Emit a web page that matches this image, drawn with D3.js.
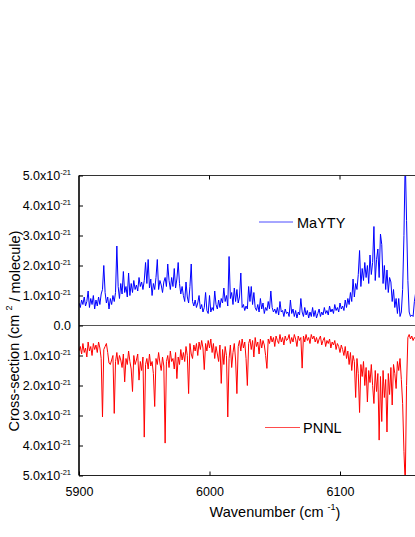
<!DOCTYPE html>
<html><head><meta charset="utf-8">
<script src="https://cdn.jsdelivr.net/npm/d3@7/dist/d3.min.js"></script>
<style>html,body{margin:0;padding:0;background:#fff;}svg{display:block;font-family:"Liberation Sans",Arial,sans-serif;}</style>
</head><body>
<script>
// wavenumber grid (cm-1), one point per cm-1
const waveStart = 5900, waveEnd = 6160;
// cross-sections in units of 1e-21 cm^2/molecule
const maytyValues = [
0.75,0.6,0.85,0.7,0.95,0.65,0.8,1.15,0.6,0.9,
0.7,1.0,0.55,0.85,0.65,0.95,0.7,1.05,1.2,2.0,
1.1,0.75,0.95,0.55,0.9,0.7,1.0,0.8,1.1,2.65,
1.3,0.9,1.4,1.05,1.8,1.1,1.3,0.95,1.75,1.0,
1.4,1.1,1.5,1.2,1.35,1.15,1.6,1.3,1.45,1.2,
1.5,2.1,1.4,2.2,1.25,1.55,1.0,1.4,1.2,1.6,
2.2,1.2,1.5,1.35,1.1,1.45,1.6,1.3,2.05,1.5,
1.2,1.6,1.3,1.9,1.25,1.55,2.1,1.4,1.05,1.3,
1.0,0.8,1.45,0.95,0.75,1.3,2.05,0.8,0.65,0.85,
0.6,0.75,1.0,0.55,0.7,0.45,0.6,1.1,0.5,0.4,
1.0,0.45,0.6,0.5,1.15,0.7,0.55,0.85,0.6,0.9,
0.75,1.25,0.8,1.0,0.65,2.3,0.9,1.1,0.7,1.25,
0.8,1.2,0.75,0.95,1.75,0.6,0.7,0.5,0.65,0.55,
1.3,0.8,1.3,0.7,1.1,0.6,0.5,0.7,0.45,0.9,
0.55,0.75,0.4,0.6,0.5,0.8,0.55,1.15,0.6,0.45,
0.55,0.4,0.6,0.35,0.8,0.45,0.5,0.3,0.55,0.4,
0.45,0.3,0.85,0.4,0.55,0.3,0.5,0.25,0.45,0.35,
0.9,0.45,0.3,0.6,0.35,0.5,0.25,0.45,0.3,0.6,
0.3,0.5,0.25,0.4,0.55,0.3,0.45,0.35,0.6,0.4,
0.5,0.35,0.65,0.45,0.55,0.4,0.7,0.5,0.6,0.45,
0.75,0.55,0.65,0.5,0.85,0.6,0.9,0.7,1.1,0.8,
1.55,0.95,1.4,1.2,1.7,2.5,1.3,1.9,1.5,2.1,
1.6,2.0,1.4,2.35,1.7,2.1,3.3,1.5,2.2,2.55,
1.6,3.05,2.7,1.4,2.0,1.2,1.85,1.1,1.6,1.45,
0.8,1.2,0.6,0.9,0.4,0.9,0.3,0.45,1.2,3.0,
5.6,3.5,1.5,0.45,0.3,0.35,0.3,0.8,1.1,1.0,0.9];
const pnnlValues = [
0.85,0.7,0.95,0.6,0.9,0.75,1.05,0.55,0.85,0.7,
1.0,0.6,0.8,0.65,0.9,0.55,0.75,1.1,3.05,0.8,
0.7,0.6,0.9,1.25,1.3,1.15,1.0,2.93,1.2,0.9,
1.3,1.0,1.15,1.4,0.95,1.88,1.1,1.3,0.85,1.2,
1.45,2.2,1.0,1.3,1.15,0.95,1.82,1.2,1.5,1.05,
3.72,1.3,1.1,1.45,0.95,1.35,1.2,1.6,2.7,1.1,
1.3,0.9,1.25,1.5,1.05,1.35,3.92,1.2,1.0,1.4,
0.85,1.2,1.1,1.45,0.9,1.77,1.05,1.3,0.8,1.15,
0.9,1.2,0.7,1.0,2.27,0.6,0.95,1.1,0.65,0.85,
0.6,1.0,0.55,0.8,0.5,0.75,1.47,0.6,0.85,0.5,
0.75,0.45,0.9,0.6,1.1,0.7,0.95,1.2,0.65,1.93,
0.8,1.3,0.7,1.0,3.05,1.1,0.65,1.4,0.9,0.6,
1.15,2.27,0.7,0.5,0.85,0.45,0.75,0.55,1.1,2.0,
0.6,0.45,0.8,0.5,1.05,0.4,0.7,0.55,0.95,0.45,
0.75,0.5,0.65,1.0,1.43,0.45,0.6,0.35,0.55,0.4,
0.7,0.35,0.5,0.6,0.3,0.55,0.4,0.65,0.35,0.5,
0.45,0.3,0.6,0.4,0.55,0.3,0.45,0.7,0.35,0.5,
0.4,1.42,0.35,0.55,0.3,0.5,0.4,0.6,0.3,0.45,
0.35,0.55,0.4,0.6,0.45,0.35,0.65,0.5,0.4,0.7,
0.5,0.6,0.45,0.75,0.55,0.65,0.5,0.8,0.6,0.7,
0.9,0.65,0.8,1.0,0.7,1.1,0.85,1.3,0.9,1.5,
1.0,1.2,2.4,1.1,1.6,2.9,1.3,1.7,1.2,2.0,
1.4,2.55,1.5,1.9,1.3,2.0,2.6,1.5,2.2,1.6,
3.82,1.7,3.2,1.5,2.4,1.8,3.55,1.6,2.3,1.4,
2.65,1.3,1.6,2.1,1.2,1.5,1.1,1.8,2.6,4.2,
5.3,2.0,0.4,0.3,0.45,0.35,0.5,0.4,0.45,0.5,0.45];
const xTicks = [5900, 6000, 6100];
const yTicks = [0, 1, 2, 3, 4, 5];
const seriesNames = ["MaYTY", "PNNL"];
const seriesColors = ["#0000ff", "#ff0000"];

const W = 415, H = 537;
const pLeft = 79, pRight = 470.5, pTop = 175.5, pMid = 325.5, pBottom = 475.5;
const svg = d3.select("body").append("svg").attr("width", W).attr("height", H);

const x = d3.scaleLinear().domain([5900, 6200]).range([pLeft, pRight]);
const yTop = d3.scaleLinear().domain([0, 5]).range([pMid, pTop]);
const yBot = d3.scaleLinear().domain([0, 5]).range([pMid, pBottom]);

const waves = d3.range(waveStart, waveEnd + 1);
const topData = waves.map((w, i) => [w, maytyValues[i]]);
const botData = waves.map((w, i) => [w, pnnlValues[i]]);

const defs = svg.append("defs");
defs.append("clipPath").attr("id", "clipTop").append("rect")
  .attr("x", pLeft).attr("y", pTop).attr("width", pRight - pLeft).attr("height", pMid - pTop);
defs.append("clipPath").attr("id", "clipBot").append("rect")
  .attr("x", pLeft).attr("y", pMid).attr("width", pRight - pLeft).attr("height", pBottom - pMid);

svg.append("path").datum(topData).attr("clip-path", "url(#clipTop)")
  .attr("fill", "none").attr("stroke", seriesColors[0]).attr("stroke-width", 1)
  .attr("d", d3.line().x(d => x(d[0])).y(d => yTop(d[1])));
svg.append("path").datum(botData).attr("clip-path", "url(#clipBot)")
  .attr("fill", "none").attr("stroke", seriesColors[1]).attr("stroke-width", 1)
  .attr("d", d3.line().x(d => x(d[0])).y(d => yBot(d[1])));

// frame lines
const frame = svg.append("g").attr("stroke", "#333").attr("stroke-width", 1).attr("fill", "none");
frame.append("line").attr("x1", pLeft).attr("x2", pRight).attr("y1", pTop).attr("y2", pTop);
frame.append("line").attr("x1", pLeft).attr("x2", pRight).attr("y1", pMid).attr("y2", pMid).attr("stroke", "#555");
frame.append("line").attr("x1", pLeft).attr("x2", pRight).attr("y1", pBottom).attr("y2", pBottom).attr("stroke", "#222");
frame.append("line").attr("x1", pLeft).attr("x2", pLeft).attr("y1", pTop).attr("y2", pBottom).attr("stroke", "#000").attr("stroke-width", 1.6);

// top x ticks (inward)
svg.append("g").selectAll("line").data(xTicks.slice(1)).join("line")
  .attr("x1", d => x(d)).attr("x2", d => x(d)).attr("y1", pTop).attr("y2", pTop + 4)
  .attr("stroke", "#000").attr("stroke-width", 1);
// bottom axis with inward ticks
const xAxis = d3.axisBottom(x).tickValues(xTicks).tickSizeInner(-4).tickSizeOuter(0).tickPadding(9).tickFormat(d3.format("d"));
const gx = svg.append("g").attr("transform", `translate(0,${pBottom})`).call(xAxis);
gx.select(".domain").remove();
gx.selectAll(".tick line").attr("stroke", "#000");
gx.selectAll(".tick text").attr("font-size", 12.5).attr("fill", "#000").attr("font-family", "Liberation Sans, Arial, sans-serif").attr("dy", "0.9em");

// y axes
function yLabel(sel) {
  sel.each(function(d) {
    const t = d3.select(this);
    t.text(null);
    if (d === 0) { t.append("tspan").text("0.0"); return; }
    t.append("tspan").text(d.toFixed(1) + "x10");
    t.append("tspan").attr("font-size", 7.5).attr("dy", "-0.7em").text("-21");
  });
}
function drawY(scale, ticks) {
  const ax = d3.axisLeft(scale).tickValues(ticks).tickSizeInner(-4).tickSizeOuter(0).tickPadding(8);
  const g = svg.append("g").attr("transform", `translate(${pLeft},0)`).call(ax);
  g.select(".domain").remove();
  g.selectAll(".tick line").attr("stroke", "#000");
  g.selectAll(".tick text").attr("font-size", 12.5).attr("fill", "#000")
    .attr("font-family", "Liberation Sans, Arial, sans-serif").call(yLabel);
}
drawY(yTop, yTicks);
drawY(yBot, yTicks.slice(1));

// axis titles
const yt = svg.append("text").attr("transform", `translate(19,331) rotate(-90)`)
  .attr("text-anchor", "middle").attr("font-size", 14.5).attr("fill", "#000");
yt.append("tspan").text("Cross-section (cm ");
yt.append("tspan").attr("font-size", 9).attr("dy", "-0.8em").text("2");
yt.append("tspan").attr("dy", "0.55em").text(" / molecule)");

const xt = svg.append("text").attr("x", 275).attr("y", 517)
  .attr("text-anchor", "middle").attr("font-size", 14.5).attr("fill", "#000");
xt.append("tspan").text("Wavenumber (cm ");
xt.append("tspan").attr("font-size", 9).attr("dy", "-0.8em").text("-1");
xt.append("tspan").attr("dy", "0.55em").text(")");

// legends
const legendPos = [{x1: 259, x2: 293, y: 222, tx: 297, ty: 227.7}, {x1: 265, x2: 300, y: 427.5, tx: 303, ty: 433.3}];
seriesNames.forEach((n, i) => {
  const p = legendPos[i];
  svg.append("line").attr("x1", p.x1).attr("x2", p.x2).attr("y1", p.y).attr("y2", p.y)
    .attr("stroke", seriesColors[i]).attr("stroke-width", 1).attr("stroke-opacity", 0.7);
  svg.append("text").attr("x", p.tx).attr("y", p.ty).attr("font-size", 14.5).attr("fill", "#000").text(n);
});
</script>
</body></html>
